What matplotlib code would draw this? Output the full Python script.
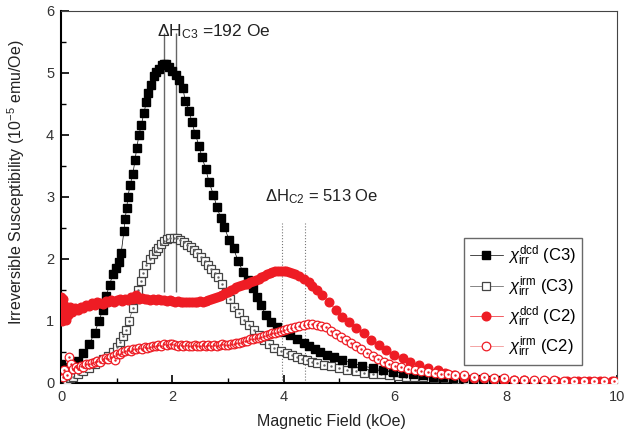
import matplotlib
matplotlib.use("Agg")
import matplotlib.pyplot as plt
from matplotlib.ticker import MultipleLocator

plt.rcParams['font.family'] = ['Liberation Sans', 'DejaVu Sans']
plt.rcParams['mathtext.fontset'] = 'custom'
plt.rcParams['mathtext.rm'] = 'Liberation Sans'
plt.rcParams['mathtext.it'] = 'Liberation Sans:italic'

# chi_irr^dcd (C3) - filled black squares
x_dcd_c3 = [0.0, 0.05, 0.1, 0.15, 0.2, 0.3, 0.4, 0.5, 0.6, 0.68,
            0.75, 0.81, 0.87, 0.93, 0.99, 1.04, 1.08, 1.13, 1.15, 1.18,
            1.2, 1.24, 1.29, 1.33, 1.36, 1.4, 1.44, 1.49, 1.53, 1.56,
            1.62, 1.67, 1.71, 1.76, 1.81, 1.85, 1.88, 1.94, 2.0, 2.06,
            2.12, 2.19, 2.23, 2.3, 2.35, 2.41, 2.48, 2.53, 2.6, 2.66,
            2.74, 2.8, 2.87, 2.93, 3.02, 3.1, 3.18, 3.27, 3.36, 3.45,
            3.52, 3.59, 3.68, 3.77, 3.88, 4.0, 4.12, 4.25, 4.36, 4.46,
            4.56, 4.66, 4.78, 4.9, 5.06, 5.24, 5.42, 5.6, 5.78, 5.96,
            6.14, 6.32, 6.5, 6.68, 6.86, 7.04, 7.22, 7.4, 7.58, 7.76, 7.94]
y_dcd_c3 = [0.3, 0.25, 0.2, 0.22, 0.26, 0.35, 0.48, 0.62, 0.8, 1.0,
            1.18, 1.4, 1.58, 1.75, 1.85, 1.95, 2.1, 2.45, 2.65, 2.82,
            3.0, 3.19, 3.37, 3.6, 3.79, 4.0, 4.16, 4.35, 4.53, 4.68,
            4.8, 4.95, 5.02, 5.07, 5.13, 5.15, 5.14, 5.1, 5.03, 4.97,
            4.89, 4.76, 4.55, 4.39, 4.21, 4.02, 3.82, 3.65, 3.45, 3.24,
            3.03, 2.84, 2.66, 2.52, 2.31, 2.17, 1.97, 1.79, 1.66, 1.53,
            1.39, 1.26, 1.1, 0.98, 0.9, 0.82, 0.77, 0.71, 0.65, 0.59,
            0.55, 0.5, 0.45, 0.42, 0.37, 0.32, 0.27, 0.24, 0.21, 0.18,
            0.16, 0.14, 0.12, 0.1, 0.09, 0.08, 0.07, 0.06, 0.06, 0.05, 0.05]

# chi_irr^irm (C3) - open squares
x_irm_c3 = [0.1, 0.16, 0.22, 0.3, 0.4, 0.5, 0.6, 0.68, 0.75, 0.84,
            0.93, 1.0, 1.06, 1.12, 1.17, 1.22, 1.29, 1.34, 1.38, 1.43,
            1.47, 1.53, 1.59, 1.65, 1.7, 1.74, 1.8, 1.85, 1.9, 1.96,
            2.03, 2.08, 2.14, 2.21, 2.27, 2.33, 2.39, 2.45, 2.51, 2.58,
            2.64, 2.7, 2.76, 2.82, 2.89, 2.96, 3.03, 3.11, 3.2, 3.29,
            3.38, 3.47, 3.56, 3.65, 3.74, 3.83, 3.95, 4.07, 4.16, 4.25,
            4.34, 4.43, 4.52, 4.61, 4.72, 4.85, 5.0, 5.15, 5.3, 5.45,
            5.6, 5.75, 5.9, 6.05, 6.2, 6.35, 6.5, 6.7, 6.9, 7.1,
            7.3, 7.5, 7.7, 7.9]
y_irm_c3 = [0.05, 0.08, 0.1, 0.14, 0.19, 0.24, 0.3, 0.35, 0.38, 0.43,
            0.5, 0.58, 0.66, 0.76, 0.86, 1.0, 1.2, 1.35, 1.5, 1.65,
            1.77, 1.9, 2.0, 2.07, 2.13, 2.18, 2.24, 2.29, 2.32, 2.34,
            2.34, 2.33, 2.31, 2.27, 2.22, 2.19, 2.15, 2.1, 2.03, 1.96,
            1.9, 1.83, 1.77, 1.7, 1.6, 1.47, 1.35, 1.23, 1.12, 1.02,
            0.93, 0.85, 0.77, 0.69, 0.62, 0.56, 0.52, 0.48, 0.45, 0.42,
            0.39, 0.37, 0.34, 0.32, 0.29, 0.27, 0.24, 0.21, 0.19, 0.16,
            0.15, 0.14, 0.12, 0.11, 0.1, 0.1, 0.09, 0.08, 0.07, 0.06,
            0.05, 0.05, 0.04, 0.04]

# chi_irr^dcd (C2) - filled red circles
x_dcd_c2 = [0.0, 0.01, 0.02, 0.03, 0.04, 0.05, 0.06, 0.08, 0.1, 0.13,
            0.16, 0.2, 0.25, 0.3, 0.35, 0.4, 0.45, 0.5, 0.55, 0.6,
            0.65, 0.7, 0.75, 0.8, 0.85, 0.9, 0.95, 1.0, 1.05, 1.1,
            1.15, 1.2, 1.25, 1.3, 1.35, 1.4, 1.45, 1.5, 1.55, 1.6,
            1.65, 1.7, 1.75, 1.8, 1.85, 1.9, 1.95, 2.0, 2.05, 2.1,
            2.15, 2.2, 2.25, 2.3, 2.35, 2.4, 2.45, 2.5, 2.55, 2.6,
            2.65, 2.7, 2.75, 2.8, 2.85, 2.9, 2.95, 3.0, 3.05, 3.1,
            3.15, 3.2, 3.25, 3.3, 3.35, 3.4, 3.45, 3.5, 3.55, 3.6,
            3.65, 3.7, 3.75, 3.8, 3.85, 3.9, 3.95, 4.0, 4.05, 4.1,
            4.15, 4.2, 4.28, 4.36, 4.45, 4.52, 4.6, 4.7, 4.81, 4.94,
            5.06, 5.17, 5.3, 5.44, 5.57, 5.71, 5.85, 5.98, 6.14, 6.28,
            6.43, 6.59, 6.77, 6.91, 7.06, 7.24, 7.42, 7.6, 7.78, 7.96,
            8.14, 8.32, 8.5, 8.7, 8.9, 9.1, 9.3, 9.5, 9.7, 9.9]
y_dcd_c2 = [1.38, 1.0, 1.3, 1.05, 1.35, 1.12, 1.25, 1.02, 1.2, 1.1,
            1.22, 1.15, 1.2, 1.18, 1.22, 1.2, 1.25, 1.24, 1.28, 1.26,
            1.3, 1.29, 1.27, 1.32, 1.3, 1.33, 1.3, 1.33, 1.35, 1.32,
            1.36, 1.34, 1.38, 1.35, 1.42, 1.36, 1.37, 1.35, 1.36, 1.34,
            1.35, 1.33, 1.35, 1.34, 1.33, 1.32, 1.33, 1.32, 1.31, 1.32,
            1.3, 1.31, 1.3, 1.31, 1.3, 1.31, 1.3, 1.32, 1.31, 1.32,
            1.33, 1.35, 1.37, 1.38, 1.4, 1.42, 1.45, 1.47, 1.5, 1.52,
            1.54, 1.56, 1.58, 1.59, 1.6, 1.62, 1.64, 1.66, 1.68, 1.71,
            1.73, 1.75, 1.77, 1.79, 1.8, 1.81, 1.81, 1.8, 1.8, 1.79,
            1.77, 1.75, 1.72, 1.68, 1.62, 1.56, 1.5, 1.42, 1.31, 1.18,
            1.06, 0.98, 0.89, 0.81, 0.69, 0.61, 0.53, 0.45, 0.4, 0.34,
            0.29, 0.24, 0.2, 0.16, 0.13, 0.1, 0.08, 0.07, 0.06, 0.05,
            0.04, 0.04, 0.03, 0.03, 0.03, 0.03, 0.03, 0.03, 0.03, 0.03]

# chi_irr^irm (C2) - open red circles
x_irm_c2 = [0.0, 0.03, 0.06, 0.1, 0.14, 0.18, 0.22, 0.26, 0.3, 0.35,
            0.4, 0.45, 0.5, 0.55, 0.6, 0.65, 0.7, 0.75, 0.8, 0.85,
            0.9, 0.95, 0.97, 1.0, 1.05, 1.1, 1.15, 1.2, 1.25, 1.3,
            1.35, 1.4, 1.45, 1.5, 1.55, 1.6, 1.65, 1.7, 1.75, 1.8,
            1.85, 1.9, 1.95, 2.0, 2.05, 2.1, 2.15, 2.2, 2.25, 2.3,
            2.35, 2.4, 2.45, 2.5, 2.55, 2.6, 2.65, 2.7, 2.75, 2.8,
            2.85, 2.9, 2.95, 3.0, 3.05, 3.1, 3.15, 3.2, 3.25, 3.3,
            3.35, 3.4, 3.45, 3.5, 3.55, 3.6, 3.65, 3.7, 3.75, 3.8,
            3.85, 3.9, 3.95, 4.0, 4.07, 4.14, 4.21, 4.28, 4.36, 4.44,
            4.52, 4.6, 4.68, 4.76, 4.85, 4.94, 5.03, 5.12, 5.21, 5.3,
            5.4, 5.5, 5.6, 5.7, 5.8, 5.9, 6.0, 6.12, 6.24, 6.36,
            6.48, 6.6, 6.72, 6.84, 6.96, 7.08, 7.24, 7.42, 7.6, 7.78,
            7.96, 8.14, 8.32, 8.5, 8.68, 8.86, 9.04, 9.22, 9.4, 9.58,
            9.76, 9.94]
y_irm_c2 = [0.15, 0.1, 0.2, 0.12, 0.42, 0.3, 0.22, 0.26, 0.22, 0.27,
            0.26, 0.3, 0.31, 0.32, 0.33, 0.35, 0.34, 0.38, 0.4, 0.39,
            0.42, 0.44, 0.37, 0.47, 0.47, 0.5, 0.51, 0.53, 0.52, 0.54,
            0.55, 0.56, 0.55, 0.57, 0.56, 0.58, 0.6, 0.59, 0.61, 0.6,
            0.62, 0.61, 0.63, 0.62, 0.61, 0.6, 0.61, 0.6, 0.61, 0.6,
            0.6, 0.61, 0.6, 0.6, 0.61, 0.6, 0.61, 0.6, 0.61, 0.6,
            0.61, 0.62, 0.61, 0.61, 0.62, 0.63, 0.64, 0.65, 0.66, 0.67,
            0.68, 0.7, 0.71, 0.72, 0.73, 0.74, 0.76, 0.77, 0.79, 0.8,
            0.81, 0.82, 0.84, 0.85, 0.87, 0.88, 0.9, 0.92, 0.93, 0.95,
            0.95, 0.94, 0.92, 0.9, 0.83, 0.78, 0.74, 0.69, 0.64, 0.6,
            0.54, 0.48, 0.43, 0.39, 0.34, 0.3, 0.27, 0.25, 0.23, 0.21,
            0.19, 0.18, 0.16, 0.15, 0.14, 0.12, 0.12, 0.1, 0.09, 0.08,
            0.07, 0.05, 0.05, 0.04, 0.04, 0.04, 0.03, 0.03, 0.03, 0.03,
            0.03, 0.03]

RED = "#ee1c24"

fig = plt.figure(figsize=(6.24, 4.36), dpi=100)
ax = fig.add_axes([0.098, 0.122, 0.891, 0.853])

ax.plot(x_dcd_c3, y_dcd_c3, color="black", lw=0.5, marker="s", ms=5.2,
        mfc="black", mec="black", label=r"$\chi_{\rm irr}^{\rm dcd}$ (C3)", zorder=4)
ax.plot(x_irm_c3, y_irm_c3, color="#555555", lw=0.5, marker="s", ms=5.2,
        mfc="white", mec="#444444", mew=0.9, label=r"$\chi_{\rm irr}^{\rm irm}$ (C3)", zorder=3)
ax.plot(x_irm_c3, y_irm_c3, ls="none", marker=".", ms=1.5, color="#666666", zorder=3)
ax.plot(x_dcd_c2, y_dcd_c2, color=RED, lw=0.5, marker="o", ms=6.2,
        mfc=RED, mec=RED, label=r"$\chi_{\rm irr}^{\rm dcd}$ (C2)", zorder=5)
ax.plot(x_irm_c2, y_irm_c2, color="#f08080", lw=0.5, marker="o", ms=6.2,
        mfc="white", mec=RED, mew=0.9, label=r"$\chi_{\rm irr}^{\rm irm}$ (C2)", zorder=6)
ax.plot(x_irm_c2, y_irm_c2, ls="none", marker=".", ms=1.5, color=RED, zorder=6)

# delta H markers
ax.vlines([1.85, 2.06], 1.47, 5.65, colors="#666666", lw=1.0, zorder=2)
ax.vlines([3.98, 4.38], 0, 2.58, colors="#777777", lw=0.8, linestyles=":", zorder=2)
ax.text(1.72, 5.66, r"$\Delta$H$_{\rm C3}$ =192 Oe", fontsize=12.5, color="#222222", va="center")
ax.text(3.66, 3.0, r"$\Delta$H$_{\rm C2}$ = 513 Oe", fontsize=12, color="#222222", va="center")

ax.set_xlim(0, 10)
ax.set_ylim(0, 6)
ax.xaxis.set_major_locator(MultipleLocator(2))
ax.xaxis.set_minor_locator(MultipleLocator(1))
ax.yaxis.set_major_locator(MultipleLocator(1))
ax.yaxis.set_minor_locator(MultipleLocator(0.5))
ax.tick_params(which="both", direction="in", top=False, right=False,
               labelsize=10.5, labelcolor="#333333")
ax.tick_params(which="major", length=6, width=1.2, pad=5)
ax.tick_params(which="minor", length=3.5, width=1.0)
ax.spines["left"].set_linewidth(1.5)
ax.spines["bottom"].set_linewidth(1.5)
ax.spines["top"].set_color("#444444")
ax.spines["right"].set_color("#444444")

ax.set_xlabel("Magnetic Field (kOe)", fontsize=11.5, color="#222222")
ax.set_ylabel(r"Irreversible Susceptibility (10$^{-5}$ emu/Oe)", fontsize=11.5,
              color="#222222")
ax.xaxis.set_label_coords(0.487, -0.085)
ax.yaxis.set_label_coords(-0.062, 0.54)

leg = ax.legend(loc="lower right", bbox_to_anchor=(0.937, 0.048), fontsize=12,
                frameon=True, fancybox=False, edgecolor="#444444", borderaxespad=0,
                handlelength=2.0, borderpad=0.35, labelspacing=0.35, handletextpad=0.3)
leg.get_frame().set_linewidth(1.0)

fig.savefig("out.png", dpi=100)
